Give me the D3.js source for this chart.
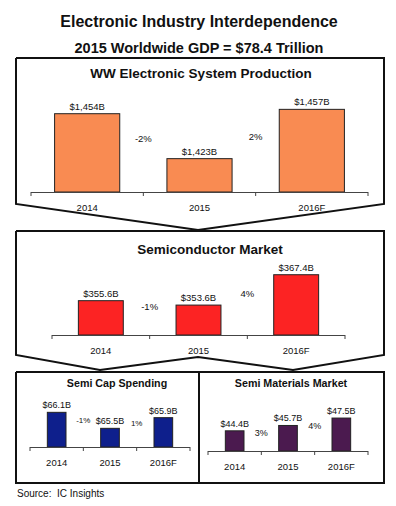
<!DOCTYPE html>
<html lang="en">
<head>
    <meta charset="UTF-8">
    <script src="https://cdn.jsdelivr.net/npm/d3@7"></script>
    <title>Electronic Industry Interdependence</title>
    <style>
        body {
            margin: 0;
            background: white;
        }

        text {
            font-family: "Liberation Sans", Arial, sans-serif;
            fill: #111;
        }

        .title {
            font-weight: bold;
        }

        .frame {
            fill: none;
            stroke: #111;
            stroke-width: 2px;
        }

        .axis-line {
            stroke: #444;
            stroke-width: 1px;
        }

        .bar {
            stroke: #222;
            stroke-width: 1px;
        }
    </style>
</head>
<body>
    <div id="chart"></div>

    <script>
        // values
        const years = ["2014", "2015", "2016F"];

        const electronicValues = [1454, 1423, 1457];
        const electronicChanges = ["-2%", "2%"];

        const semiValues = [355.6, 353.6, 367.4];
        const semiChanges = ["-1%", "4%"];

        const capValues = [66.1, 65.5, 65.9];
        const capChanges = ["-1%", "1%"];

        const materialValues = [44.4, 45.7, 47.5];
        const materialChanges = ["3%", "4%"];

        const width = 396;
        const height = 506;

        const svg = d3.select("#chart").append("svg")
            .attr("width", width)
            .attr("height", height);

        // header
        svg.append("text")
            .attr("class", "title")
            .attr("x", 199)
            .attr("y", 27)
            .attr("text-anchor", "middle")
            .style("font-size", "16px")
            .text("Electronic Industry Interdependence");

        svg.append("text")
            .attr("class", "title")
            .attr("x", 199)
            .attr("y", 53)
            .attr("text-anchor", "middle")
            .style("font-size", "14.5px")
            .text("2015 Worldwide GDP = $78.4 Trillion");

        // frames around the panels (chevrons point down to the next level)
        const frames = [
            [[16, 58], [384, 58], [384, 204], [198, 230], [16, 204], [16, 58]],
            [[16, 231], [384, 231], [384, 355], [293, 370], [198, 357], [100, 370], [16, 355], [16, 231]],
            [[16, 372], [199, 372], [199, 483], [16, 483], [16, 372]],
            [[199, 372], [384, 372], [384, 483], [199, 483], [199, 372]]
        ];

        svg.selectAll(".frame")
            .data(frames)
            .enter()
            .append("path")
            .attr("class", "frame")
            .attr("d", d3.line());

        const money = d3.format(",");

        const panels = [
            {
                title: "WW Electronic System Production", titleX: 201, titleY: 78, titleSize: 13.5,
                values: electronicValues, changes: electronicChanges, color: "#f98b52",
                label: v => "$" + money(v) + "B",
                x0: 31, x1: 368, padding: 0.42, axisY: 192, domain: [1400, 1460], top: 105,
                labelSize: 9.5, pctSize: 9.5, pctShift: 5.5
            },
            {
                title: "Semiconductor Market", titleX: 210, titleY: 254, titleSize: 13.5,
                values: semiValues, changes: semiChanges, color: "#fc2323",
                label: v => "$" + v.toFixed(1) + "B",
                x0: 52, x1: 345, padding: 0.54, axisY: 335, domain: [340, 370], top: 269,
                labelSize: 9.5, pctSize: 9.5, pctShift: 7
            },
            {
                title: "Semi Cap Spending", titleX: 117, titleY: 387, titleSize: 10.7,
                values: capValues, changes: capChanges, color: "#0e1f8c",
                label: v => "$" + v.toFixed(1) + "B",
                x0: 30, x1: 190, padding: 0.65, axisY: 447, domain: [64.8, 66.3], top: 407,
                labelSize: 9, pctSize: 8, pctShift: 2.5
            },
            {
                title: "Semi Materials Market", titleX: 291, titleY: 387, titleSize: 10.7,
                values: materialValues, changes: materialChanges, color: "#4b1a4f",
                label: v => "$" + v.toFixed(1) + "B",
                x0: 208, x1: 368, padding: 0.65, axisY: 451, domain: [39.5, 48], top: 416,
                labelSize: 9, pctSize: 9, pctShift: 7.5
            }
        ];

        const drawPanel = p => {
            const g = svg.append("g");

            const x = d3.scaleBand()
                .domain(years)
                .range([p.x0, p.x1])
                .paddingInner(p.padding)
                .paddingOuter(p.padding / 2);

            const y = d3.scaleLinear()
                .domain(p.domain)
                .range([p.axisY, p.top]);

            const step = x.step();
            const rows = years.map((year, i) => ({ year, value: p.values[i] }));

            g.append("text")
                .attr("class", "title")
                .attr("x", p.titleX)
                .attr("y", p.titleY)
                .attr("text-anchor", "middle")
                .style("font-size", p.titleSize + "px")
                .text(p.title);

            g.selectAll(".bar")
                .data(rows)
                .enter()
                .append("rect")
                .attr("class", "bar")
                .attr("x", d => x(d.year))
                .attr("y", d => y(d.value))
                .attr("width", x.bandwidth())
                .attr("height", d => p.axisY - y(d.value))
                .attr("fill", p.color);

            // category axis: a plain line with ticks between the bars
            g.append("line")
                .attr("class", "axis-line")
                .attr("x1", p.x0)
                .attr("x2", p.x1)
                .attr("y1", p.axisY + 0.5)
                .attr("y2", p.axisY + 0.5);

            g.selectAll(".tick")
                .data(d3.range(years.length + 1))
                .enter()
                .append("line")
                .attr("class", "axis-line")
                .attr("x1", i => p.x0 + i * step)
                .attr("x2", i => p.x0 + i * step)
                .attr("y1", p.axisY)
                .attr("y2", p.axisY + 4);

            g.selectAll(".year")
                .data(rows)
                .enter()
                .append("text")
                .attr("x", d => x(d.year) + x.bandwidth() / 2)
                .attr("y", p.axisY + 18.5)
                .attr("text-anchor", "middle")
                .style("font-size", "9.5px")
                .text(d => d.year);

            g.selectAll(".value")
                .data(rows)
                .enter()
                .append("text")
                .attr("x", d => x(d.year) + x.bandwidth() / 2)
                .attr("y", d => y(d.value) - 4)
                .attr("text-anchor", "middle")
                .style("font-size", p.labelSize + "px")
                .text(d => p.label(d.value));

            // growth between neighbouring years, sitting on the tick between them
            g.selectAll(".change")
                .data(p.changes)
                .enter()
                .append("text")
                .attr("x", (d, i) => p.x0 + (i + 1) * step)
                .attr("y", (d, i) => (y(p.values[i]) + y(p.values[i + 1])) / 2 + p.pctShift)
                .attr("text-anchor", "middle")
                .style("font-size", p.pctSize + "px")
                .text(d => d);
        };

        panels.forEach(drawPanel);

        svg.append("text")
            .attr("x", 17)
            .attr("y", 497)
            .style("font-size", "10px")
            .style("white-space", "pre")
            .text("Source:  IC Insights");
    </script>
</body>
</html>
